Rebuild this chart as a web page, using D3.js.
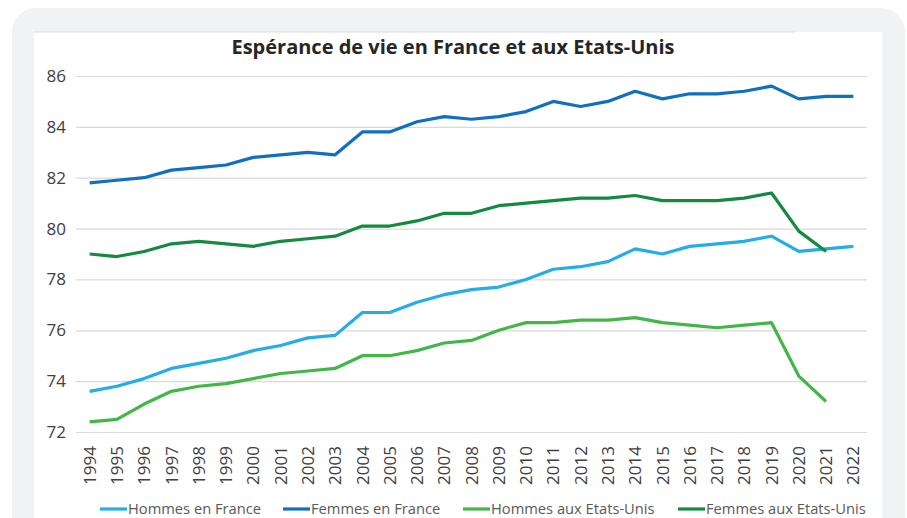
<!DOCTYPE html>
<html>
<head>
<meta charset="utf-8">
<script src="https://cdn.jsdelivr.net/npm/d3@7"></script>
<style>
  body { margin: 0; background: #fff; font-family: "Open Sans", sans-serif; }
</style>
</head>
<body>
<div id="container"></div>
<script>
/* CONSTANTS AND GLOBALS */
const width = 907,
  height = 518,
  margin = { top: 76, bottom: 86, left: 76, right: 40 };

// DATA
const years = d3.range(1994, 2023).map(String);
const hommesFrance = [73.6, 73.8, 74.1, 74.5, 74.7, 74.9, 75.2, 75.4, 75.7, 75.8, 76.7, 76.7, 77.1, 77.4, 77.6, 77.7, 78.0, 78.4, 78.5, 78.7, 79.2, 79.0, 79.3, 79.4, 79.5, 79.7, 79.1, 79.2, 79.3];
const femmesFrance = [81.8, 81.9, 82.0, 82.3, 82.4, 82.5, 82.8, 82.9, 83.0, 82.9, 83.8, 83.8, 84.2, 84.4, 84.3, 84.4, 84.6, 85.0, 84.8, 85.0, 85.4, 85.1, 85.3, 85.3, 85.4, 85.6, 85.1, 85.2, 85.2];
const hommesUS = [72.4, 72.5, 73.1, 73.6, 73.8, 73.9, 74.1, 74.3, 74.4, 74.5, 75.0, 75.0, 75.2, 75.5, 75.6, 76.0, 76.3, 76.3, 76.4, 76.4, 76.5, 76.3, 76.2, 76.1, 76.2, 76.3, 74.2, 73.2, null];
const femmesUS = [79.0, 78.9, 79.1, 79.4, 79.5, 79.4, 79.3, 79.5, 79.6, 79.7, 80.1, 80.1, 80.3, 80.6, 80.6, 80.9, 81.0, 81.1, 81.2, 81.2, 81.3, 81.1, 81.1, 81.1, 81.2, 81.4, 79.9, 79.1, null];
const yTicks = [72, 74, 76, 78, 80, 82, 84, 86];
const seriesNames = ["Hommes en France", "Femmes en France", "Hommes aux Etats-Unis", "Femmes aux Etats-Unis"];
const seriesColors = ["#23aee5", "#1070bf", "#43b649", "#138a3e"];

const series = [hommesFrance, femmesFrance, hommesUS, femmesUS].map((vals, i) => ({
  name: seriesNames[i],
  color: seriesColors[i],
  values: vals.map((v, j) => ({ year: years[j], value: v }))
}));

const svg = d3.select("#container")
  .append("svg")
  .attr("width", width)
  .attr("height", height);

// CARD BACKGROUND
svg.append("rect")
  .attr("x", 12).attr("y", 8)
  .attr("width", 893).attr("height", 540)
  .attr("rx", 24)
  .attr("fill", "#f1f2f4");

svg.append("rect")
  .attr("x", 34).attr("y", 32)
  .attr("width", 848).attr("height", 500)
  .attr("fill", "#fff");

svg.append("line")
  .attr("x1", 34).attr("x2", 795)
  .attr("y1", 32).attr("y2", 32)
  .attr("stroke", "#dcdcdc");

// TITLE
svg.append("text")
  .attr("x", 453).attr("y", 54)
  .attr("text-anchor", "middle")
  .attr("font-size", 20)
  .attr("font-weight", "bold")
  .attr("fill", "#262626")
  .text("Espérance de vie en France et aux Etats-Unis");

// SCALES
const xScale = d3.scaleBand()
  .domain(years)
  .range([margin.left, width - margin.right]);

const yScale = d3.scaleLinear()
  .domain([72, 86])
  .range([height - margin.bottom, margin.top]);

// GRIDLINES + Y AXIS
const yAxis = d3.axisLeft(yScale)
  .tickValues(yTicks)
  .tickSize(-(width - margin.left - margin.right))
  .tickPadding(10)
  .tickFormat(d3.format("d"));

svg.append("g")
  .attr("transform", `translate(${margin.left},0)`)
  .call(yAxis)
  .call(g => g.select(".domain").remove())
  .call(g => g.selectAll(".tick line").attr("stroke", "#d9d9d9").attr("stroke-width", 1.2))
  .call(g => g.selectAll(".tick text")
    .attr("font-size", 17)
    .attr("font-family", "Open Sans")
    .attr("fill", "#404040"));

// X AXIS
const xAxis = d3.axisBottom(xScale).tickSize(0).tickPadding(0);

svg.append("g")
  .attr("transform", `translate(0,${height - margin.bottom})`)
  .call(xAxis)
  .call(g => g.select(".domain").remove())
  .call(g => g.selectAll(".tick text")
    .attr("transform", "rotate(-90)")
    .attr("text-anchor", "end")
    .attr("x", -14)
    .attr("y", 0)
    .attr("dy", "0.36em")
    .attr("font-size", 17)
    .attr("font-family", "Open Sans")
    .attr("fill", "#404040"));

// LINES
const lineGen = d3.line()
  .defined(d => d.value !== null)
  .x(d => xScale(d.year) + xScale.bandwidth() / 2)
  .y(d => yScale(d.value));

svg.selectAll("path.series")
  .data(series)
  .join("path")
  .attr("class", "series")
  .attr("fill", "none")
  .attr("stroke", d => d.color)
  .attr("stroke-width", 3.2)
  .attr("stroke-linejoin", "round")
  .attr("d", d => lineGen(d.values));

// LEGEND
const legendX = [100, 283, 463, 678];
const legend = svg.selectAll("g.legend")
  .data(series)
  .join("g")
  .attr("class", "legend")
  .attr("transform", (d, i) => `translate(${legendX[i]},509)`);

legend.append("line")
  .attr("x1", 0).attr("x2", 27)
  .attr("stroke", d => d.color)
  .attr("stroke-width", 3.2);

legend.append("text")
  .attr("x", 28)
  .attr("dy", "0.35em")
  .attr("font-size", 14.7)
  .attr("fill", "#595959")
  .text(d => d.name);
</script>
</body>
</html>
